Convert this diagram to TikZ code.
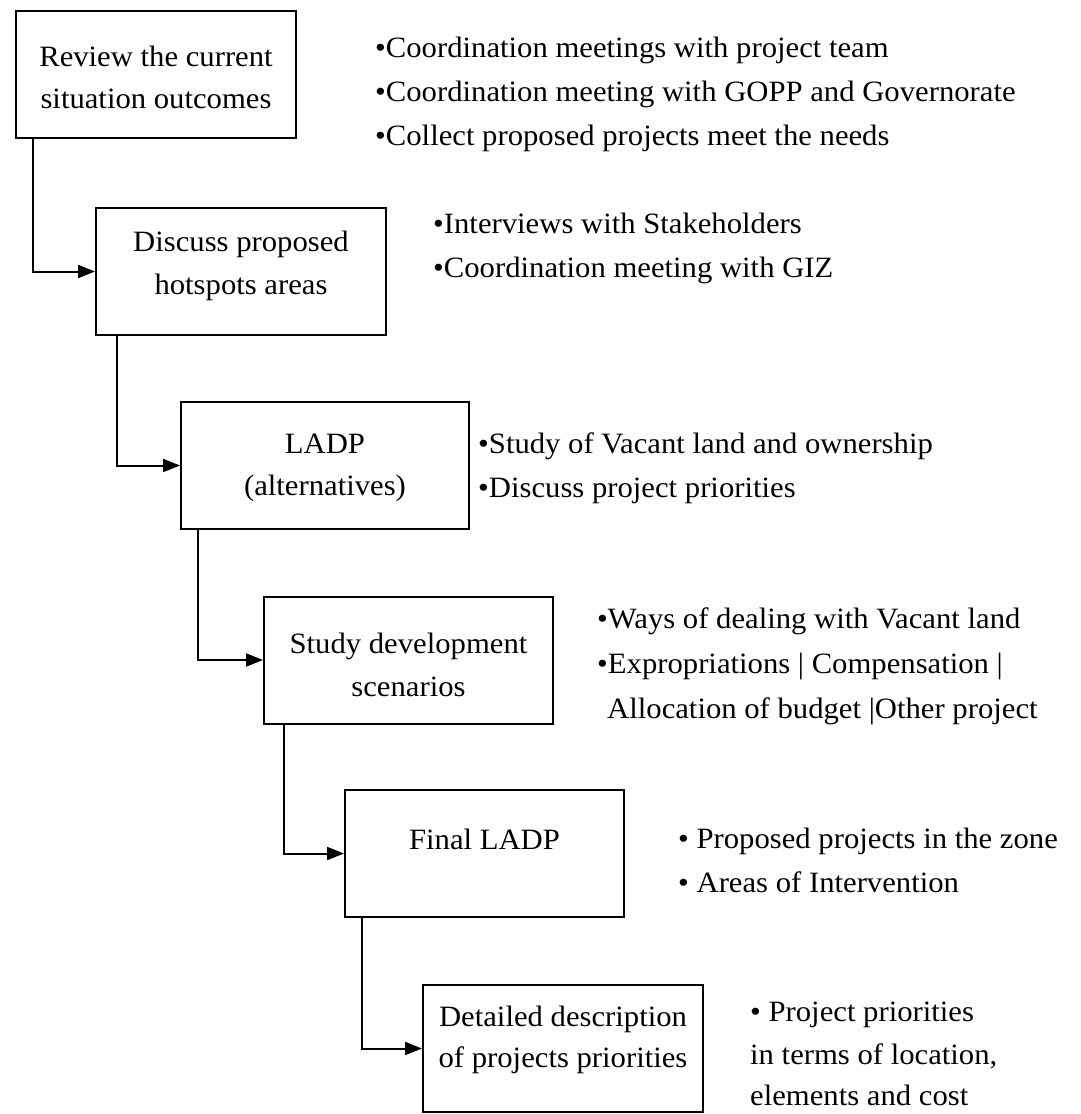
\documentclass[tikz,border=0pt]{standalone}
\usepackage{fontspec}
\setmainfont{Liberation Serif}[FakeStretch=1.04]
\usetikzlibrary{arrows.meta}

\tikzset{
  stepbox/.style={draw, line width=2pt, inner sep=0pt,
    minimum width=#1, minimum height=127pt},
  conn/.style={line width=2pt, -{Triangle[length=17pt,width=13pt]}},
  boxline/.style={anchor=base, inner sep=0pt, font=\fontsize{29.5}{34}\selectfont},
  note/.style={anchor=base west, inner sep=0pt, font=\fontsize{29.5}{34}\selectfont},
}

\begin{document}
\begin{tikzpicture}[x=1pt,y=-1pt]
\useasboundingbox (0,0) rectangle (1080,1114);

% process boxes
\node[stepbox=280pt] (b1) at (156,74.5) {};
\node[stepbox=290pt] (b2) at (241,271.5) {};
\node[stepbox=288pt] (b3) at (325,465.5) {};
\node[stepbox=289pt] (b4) at (408.5,660) {};
\node[stepbox=279pt] (b5) at (484.5,853.5) {};
\node[stepbox=280pt] (b6) at (563,1048.5) {};

% box captions
\node[boxline] (t1a) at (156,66)  {Review the current};
\node[boxline] (t1b) at (156,108) {situation outcomes};
\node[boxline] (t2a) at (241,251) {Discuss proposed};
\node[boxline] (t2b) at (241,294) {hotspots areas};
\node[boxline] (t3a) at (325,453) {LADP};
\node[boxline] (t3b) at (325,495) {(alternatives)};
\node[boxline] (t4a) at (408.5,653) {Study development};
\node[boxline] (t4b) at (408.5,696) {scenarios};
\node[boxline] (t5a) at (484.5,849) {Final LADP};
\node[boxline] (t6a) at (563,1026) {Detailed description};
\node[boxline] (t6b) at (563,1067) {of projects priorities};

% connectors
\draw[conn] ([xshift=18pt]b1.south west) |- (b2.west);
\draw[conn] ([xshift=22pt]b2.south west) |- (b3.west);
\draw[conn] ([xshift=18pt]b3.south west) |- (b4.west);
\draw[conn] ([xshift=21pt]b4.south west) |- (b5.west);
\draw[conn] ([xshift=18pt]b5.south west) |- (b6.west);

% activity notes
\node[note] (n1a) at (375,57)  {•Coordination meetings with project team};
\node[note] (n1b) at (375,101) {•Coordination meeting with GOPP and Governorate};
\node[note] (n1c) at (375,145) {•Collect proposed projects meet the needs};

\node[note] (n2a) at (433,233) {•Interviews with Stakeholders};
\node[note] (n2b) at (433,277) {•Coordination meeting with GIZ};

\node[note] (n3a) at (478,453) {•Study of Vacant land and ownership};
\node[note] (n3b) at (478,497) {•Discuss project priorities};

\node[note] (n4a) at (597,628) {•Ways of dealing with Vacant land};
\node[note] (n4b) at (597,673) {•Expropriations | Compensation |};
\node[note] (n4c) at (607,718) {Allocation of budget |Other project};

\node[note] (n5a) at (678,848) {• Proposed projects in the zone};
\node[note] (n5b) at (678,892) {• Areas of Intervention};

\node[note] (n6a) at (750,1021) {• Project priorities};
\node[note] (n6b) at (750,1064) {in terms of location,};
\node[note] (n6c) at (750,1105) {elements and cost};
\end{tikzpicture}
\end{document}
